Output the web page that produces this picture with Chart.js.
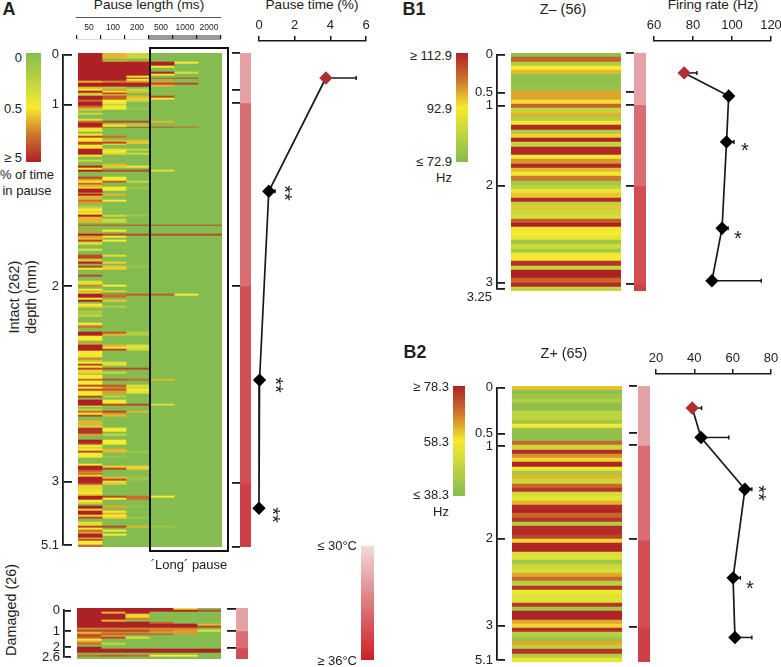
<!DOCTYPE html>
<html>
<head>
<meta charset="utf-8">
<style>
  html, body { margin: 0; background: #fff; }
  #page { position: relative; width: 781px; height: 667px; overflow: hidden; font-family: "Liberation Sans", Arial, sans-serif; color: #222; }
  #page canvas { position: absolute; }
  .txt { position: absolute; white-space: nowrap; line-height: 1; }
</style>
<script src="https://cdn.jsdelivr.net/npm/chart.js@4/dist/chart.umd.min.js"></script>
</head>
<body>
<div id="page"></div>
<script>
// pause length bins (ms)
const pauseLengths = ['50', '100', '200', '500', '1000', '2000'];
const longPause = [0, 0, 0, 1, 1, 1];

// panel A heat map, % of time in pause, [firstRow, lastRow, value], rows not listed are 0
const col50 = [[0,14,5],[15,15,1.5],[16,17,5],[18,18,1.5],[19,19,.5],[20,20,5],[21,21,1.5],[22,22,.3],[23,24,5],[25,25,3],[26,27,5],[28,28,3],[29,29,1.5],[30,30,.3],[32,32,.3],[35,35,.4],[36,36,3],[37,38,5],[39,39,4],[40,41,.6],[43,43,.5],[44,44,4],[45,45,.5],[46,46,.6],[47,48,4],[49,50,.5],[51,53,5],[54,54,.6],[57,57,.3],[60,60,5],[61,61,.5],[62,62,5],[66,66,4],[67,67,2],[68,68,.5],[69,69,3],[70,70,1.5],[71,71,1],[72,73,5],[74,74,2],[75,75,5],[76,77,1.5],[78,78,3],[79,79,2],[81,81,.2],[82,82,.3],[83,83,.5],[84,84,1],[85,85,.6],[86,86,5],[87,89,1.5],[91,91,4],[94,94,2],[96,96,5],[97,97,2],[98,98,1.5],[99,99,4],[100,100,.3],[101,101,.4],[104,104,.4],[107,108,4],[109,109,.3],[110,110,1.5],[111,111,5],[113,113,4],[114,114,.5],[118,118,4],[121,122,.4],[123,123,2.5],[125,125,.5],[126,126,2],[127,127,.3],[128,129,5],[130,130,.5],[131,131,5],[133,133,.5],[134,134,1],[137,137,.2],[138,138,.1],[139,139,.3],[143,143,.5],[144,144,1.5],[145,145,3],[148,149,5],[150,152,.5],[154,154,2],[155,157,5],[158,160,.5],[161,161,.3],[162,162,2.5],[163,163,.2],[164,164,.5],[165,165,4],[166,166,.5],[167,167,4],[168,169,1],[171,172,.5],[173,173,3],[174,175,.5],[176,176,4],[177,177,.5],[178,178,4],[179,179,1],[180,181,.5],[182,182,4],[184,186,5],[187,187,.5],[189,189,.3],[190,190,3],[191,191,.5],[192,192,4],[195,197,1.5],[198,198,.3],[199,201,4.5],[202,202,2],[205,206,5],[207,207,4],[208,208,.5],[209,209,.3],[210,210,.5],[211,211,4],[212,214,.5],[218,218,.5],[219,220,5],[221,221,3.5],[222,222,2],[223,223,3],[224,224,1],[225,227,5],[228,228,4],[229,230,1],[231,232,.4],[233,233,.5],[234,234,1],[235,236,5],[237,237,.5],[238,238,1],[240,241,5],[242,242,1],[243,244,5],[245,245,1],[246,246,4],[249,250,.4],[251,251,4],[252,252,.5],[253,253,3],[254,254,2],[255,256,5],[257,257,1],[258,258,4],[259,260,.5],[261,261,3]];
const col100 = [[0,2,1.5],[4,4,1.5],[5,14,5],[15,15,2.5],[16,17,5],[18,18,.2],[19,19,2],[20,20,.8],[21,21,5],[22,22,2],[23,24,3.5],[25,26,.5],[27,27,.3],[28,29,.5],[36,36,4],[37,37,.1],[38,38,.5],[39,39,3],[44,44,3],[46,46,1.5],[47,47,4],[48,48,.5],[51,51,.4],[52,52,.5],[53,53,1],[59,59,1.5],[60,60,1],[62,62,4],[66,67,.5],[68,68,3.5],[71,72,.5],[75,75,1.5],[78,78,.5],[86,86,.3],[88,89,.3],[91,91,4],[94,94,.5],[96,96,4],[97,97,.5],[99,99,.5],[107,107,.4],[111,111,1],[113,113,1.2],[114,114,1],[123,123,.5],[126,126,.5],[128,129,3],[131,131,1.2],[134,134,.2],[148,148,3.5],[149,149,1.5],[155,155,1.5],[156,156,.7],[157,157,4],[164,165,.4],[167,167,4],[169,169,.3],[173,173,3.5],[176,176,3.5],[177,177,2.5],[178,178,3.5],[179,180,2],[181,181,.1],[182,182,.2],[184,185,.5],[186,186,4],[190,190,4],[191,191,2],[192,192,1.5],[199,200,.5],[202,202,.3],[205,206,.5],[207,207,.5],[210,211,1.5],[214,214,.1],[219,219,1],[220,220,4],[225,225,1.5],[226,226,4],[227,227,.8],[228,228,.3],[235,235,4],[236,236,.5],[240,240,1.5],[241,241,2],[243,243,.6],[244,244,1.5],[245,245,.5],[246,246,1],[251,251,4],[253,253,.5],[255,255,.5]];
const col200 = [[0,2,.3],[4,4,2],[5,11,5],[12,12,.5],[13,13,5],[14,14,.5],[15,15,2],[16,17,5],[19,19,.3],[20,20,.2],[21,21,2],[23,23,1.5],[24,24,1],[25,25,.3],[29,29,.1],[36,36,4],[37,37,.1],[38,38,.2],[39,39,4],[46,46,1.5],[47,47,1],[51,51,.3],[53,53,.3],[60,60,.6],[62,62,4],[68,68,.3],[71,71,.1],[86,86,.1],[91,91,4],[96,96,4],[113,113,.1],[128,128,3.5],[148,149,.2],[155,156,.4],[157,157,.3],[167,167,4],[173,173,3],[176,176,.4],[177,177,.3],[178,178,.5],[179,180,.4],[186,186,4],[190,190,1.5],[211,211,.1],[219,220,1],[225,226,.1],[235,236,3],[240,240,.1],[246,246,.1],[251,251,1.5]];
const col500 = [[5,6,5],[7,7,.5],[10,10,5],[11,11,.6],[13,13,3.5],[15,15,2],[16,16,4],[17,17,1.5],[23,23,4],[24,24,.6],[36,36,1.5],[39,39,3.5],[62,62,.4],[91,91,4],[96,96,4],[128,128,3.5],[173,173,1.5],[186,186,.35],[235,235,.5],[251,251,.1]];
const col1000 = [[5,5,.5],[10,10,.4],[13,13,4],[16,16,4],[39,39,3],[91,91,4],[96,96,4],[128,128,.5]];
const col2000 = [[91,91,4],[96,96,4]];

// damaged rows, one list per pause length
const dmg50 = [5,5,5,5,5,5,5,5,5,5,2.5,4,1.5,3,4,3,.5,2,3,0,5,5,5,0,3,0];
const dmg100 = [5,5,1.5,5,5,5,1.5,5,5,5,2.5,4,2.5,4,2,4,0,0,.3,0,0,5,5,0,3.5,0];
const dmg200 = [5,5,5,1,.8,2.5,0,5,5,5,2.5,4,2.5,4,0,.4,0,0,0,0,0,5,5,0,3,0];
const dmg500 = [5,5,0,0,0,0,0,3,5,5,2.5,2.5,2,4,0,0,0,0,0,0,0,5,5,0,.5,0];
const dmg1000 = [.6,5,0,0,0,0,0,0,5,5,2.5,2,2,2,0,0,0,0,0,0,0,5,5,0,.5,0];
const dmg2000 = [0,4,0,0,0,0,0,0,1.5,4,0,.4,0,0,0,0,0,0,0,0,0,5,5,0,0,0];

// firing rate heat maps (Hz), top to bottom
const hzZminus = [75,105,80,93,97,75,75,76,76,99,99,94,105,84,98,80,92,112,80,95,113,84,112,112,92,100,112,97,92,103,78,82,90,96,112,83,96,85,88,106,113,92,93,90,77,86,78,92,93,111,84,113,113,105,112,84];
const hzZplus = [62,40,42,46,40,40,48,49,44,58,41,40,40,70,50,77,66,60,78,57,44,63,50,70,76,52,55,63,77,78,70,76,46,77,77,74,60,78,78,53,54,43,50,53,64,70,47,76,57,54,54,76,44,78,78,64,60,77,47,42,64,48,76,46,56];

// depth ticks: mm label and the row they fall on
const depthLabelsA = ['0', '1', '2', '3', '5.1'];
const depthRowsA = [0, 26.5, 123.6, 228.1, 262];
const stubRowsA = [0, 19.6, 26.5, 123.6, 228.1, 262];
const depthLabelsD = ['0', '1', '2', '2.6'];
const depthRowsD = [0.5, 11.7, 20.4, 26];
const stubRowsD = [0.5, 11.7, 20.4];
const depthLabelsB1 = ['0', '0.5', '1', '2', '3', ''];
const depthRowsB1 = [0, 9.1, 12.2, 31.3, 54.4, 56];
const stubRowsB1 = [0, 9.1, 12.2, 31.3, 54.4];
const depthLabelsB2 = ['0', '0.5', '1', '2', '3', '5.1'];
const depthRowsB2 = [0, 11, 13.9, 36, 56.7, 65];
const stubRowsB2 = [0, 11, 13.9, 36, 56.7];

// temperature strip, rows in each depth range
const stripA = [26.5, 97.1, 104.5, 33.9];
const stripD = [11.7, 8.7, 5.6];
const stripB1 = [12.2, 19.1, 23.1, 1.6];
const stripB2 = [14, 22.3, 20.5, 8.2];
const stripColors = ['#E4A1A6', '#D96D73', '#D14E53', '#CE3F46'];

// mean +- error per depth range
const pauseRows = [13.3, 74.3, 176, 245];
const pauseTime = [3.75, 0.55, 0.03, 0];
const pauseHigh = [5.45, 0.9, null, null];
const rateRowsB1 = [4.9, 10.5, 21.6, 42.5, 55.2];
const rateB1 = [75.5, 98.3, 97.2, 94.9, 89.7];
const rateHighB1 = [82, null, 101, 98, 115];
const rateRowsB2 = [5.4, 12.5, 25, 46.4, 60.8];
const rateB2 = [38.9, 43.5, 66.4, 60.2, 61.2];
const rateHighB2 = [43.8, 58, 70, 64, 70];

const GREEN = [133, 188, 79], YELLOW = [246, 235, 47], ORANGE = [205, 118, 45], RED = [174, 33, 39];
const INK = '#1a1a1a';
const FONT = 13;
const page = document.getElementById('page');

Chart.defaults.animation = false;
Chart.defaults.responsive = false;
Chart.defaults.font.family = '"Liberation Sans", Arial, sans-serif';
Chart.defaults.font.size = FONT;
Chart.defaults.color = '#222';
Chart.defaults.plugins.legend.display = false;
Chart.defaults.plugins.tooltip.enabled = false;

function place(x, y, w, h) {
    const c = document.createElement('canvas');
    c.width = w;
    c.height = h;
    c.style.left = x + 'px';
    c.style.top = y + 'px';
    page.appendChild(c);
    return c.getContext('2d');
}

function label(text, x, y, o = {}) {
    const d = document.createElement('div');
    d.className = 'txt';
    d.textContent = text;
    d.style.left = x + 'px';
    d.style.top = y + 'px';
    d.style.fontSize = (o.size || FONT) + 'px';
    if (o.bold) d.style.fontWeight = 'bold';
    const tx = o.align === 'right' ? '-100%' : '-50%';
    d.style.transform = `translate(${tx},-50%) rotate(${o.rot || 0}deg)`;
    page.appendChild(d);
}

function mix(a, b, t) {
    return `rgb(${a.map((v, i) => Math.round(v + (b[i] - v) * t)).join(',')})`;
}

// upper half of the scale, yellow through orange to dark red
function warm(t) {
    return t < 0.5 ? mix(YELLOW, ORANGE, t / 0.5) : mix(ORANGE, RED, (t - 0.5) / 0.5);
}

// colour from the 0 / 0.5 / 5 % scale
function pauseColor(v) {
    if (v <= 0.5) return mix(GREEN, YELLOW, v / 0.5);
    return warm((v - 0.5) / 4.5);
}

function hzColor(lo, hi) {
    const mid = (lo + hi) / 2;
    return v => {
        if (v <= mid) return mix(GREEN, YELLOW, Math.max(0, (v - lo) / (mid - lo)));
        return warm(Math.min(1, (v - mid) / (hi - mid)));
    };
}

function expand(bands, n) {
    const out = new Array(n).fill(0);
    bands.forEach(([a, b, v]) => { for (let i = a; i <= b; i++) out[i] = v; });
    return out;
}

// rows are under 2px tall in panel A, snap them so no white seams show
const snapPx = v => Math.round(Math.round(v * 1000) / 1000);
const snapRows = {
    id: 'snapRows',
    afterDatasetsUpdate(chart) {
        chart.data.datasets.forEach((_, i) => {
            chart.getDatasetMeta(i).data.forEach(el => {
                const top = snapPx(el.y - el.height / 2);
                const bottom = snapPx(el.y + el.height / 2);
                el.y = (top + bottom) / 2;
                el.height = bottom - top;
            });
        });
    },
};

// rows of stacked bars, one dataset per column
function heat(x, y, w, h, cols, color) {
    const rows = cols[0].map((_, i) => i);
    new Chart(place(x, y, w, h), {
        type: 'bar',
        data: {
            labels: rows,
            datasets: cols.map(col => ({
                data: col.map(() => 1),
                backgroundColor: col.map(color),
                barPercentage: 1,
                categoryPercentage: 1,
            })),
        },
        options: {
            indexAxis: 'y',
            scales: {
                x: { display: false, stacked: true, min: 0, max: cols.length },
                y: { display: false, stacked: true },
            },
        },
        plugins: [snapRows],
    });
}

// depth axis: bracket with labels (left of the map) or plain stubs (next to the strip)
function depthAxis(x, y, axisW, tickW, h, n, rows, labels) {
    const pad = 10;
    new Chart(place(x, y - pad, axisW + tickW, h + pad * 2), {
        type: 'bar',
        data: { labels: [], datasets: [] },
        options: {
            layout: { padding: { top: pad, bottom: pad } },
            scales: {
                x: { display: false },
                y: {
                    type: 'linear',
                    min: 0,
                    max: n,
                    reverse: true,
                    afterBuildTicks: s => { s.ticks = rows.map(v => ({ value: v })); },
                    afterFit: s => { s.width = axisW; },
                    grid: { color: INK, lineWidth: 1.8, drawTicks: false },
                    border: { display: !!labels, color: INK, width: 1.8 },
                    ticks: {
                        display: !!labels,
                        autoSkip: false,
                        padding: 4,
                        callback: (v, i) => (labels ? labels[i] : ''),
                    },
                },
            },
        },
    });
}

function strip(x, y, w, h, segs) {
    new Chart(place(x, y, w, h), {
        type: 'bar',
        data: {
            labels: [''],
            datasets: segs.map((s, i) => ({
                data: [s],
                backgroundColor: stripColors[i],
                barPercentage: 1,
                categoryPercentage: 1,
            })),
        },
        options: {
            scales: {
                x: { display: false, stacked: true },
                y: { display: false, stacked: true, reverse: true, min: 0, max: segs.reduce((a, b) => a + b, 0) },
            },
        },
    });
}

function colorBar(x, y, w, h, stops) {
    new Chart(place(x, y, w, h), {
        type: 'bar',
        data: {
            labels: [''],
            datasets: [{
                data: [1],
                barPercentage: 1,
                categoryPercentage: 1,
                backgroundColor: c => {
                    const area = c.chart.chartArea;
                    if (!area) return '#fff';
                    const g = c.chart.ctx.createLinearGradient(0, area.top, 0, area.bottom);
                    stops.forEach(([p, col]) => g.addColorStop(p, col));
                    return g;
                },
            }],
        },
        options: { scales: { x: { display: false }, y: { display: false, min: 0, max: 1 } } },
    });
}

// mean line with diamonds on a top axis; first point red, error bars to the right
function profile(x0, x1, axisY, top, bottom, rowH, xMin, xMax, step, rows, means, highs) {
    const padX = 14, head = 32;
    const errs = means.map((m, i) => ({ m, r: rows[i], hi: highs[i] })).filter(e => e.hi !== null);
    new Chart(place(x0 - padX, axisY - head, x1 - x0 + padX * 2, bottom - axisY + head), {
        type: 'line',
        data: {
            datasets: [{
                data: means.map((m, i) => ({ x: m, y: rows[i] })),
                borderColor: INK,
                borderWidth: 1.7,
                tension: 0,
                pointStyle: 'rectRot',
                pointRadius: 5.5,
                pointBackgroundColor: means.map((_, i) => (i === 0 ? '#B02E33' : '#000')),
                pointBorderColor: means.map((_, i) => (i === 0 ? '#B02E33' : '#000')),
                clip: false,
            }].concat(errs.map(e => ({
                data: [{ x: e.m, y: e.r }, { x: e.hi, y: e.r }],
                borderColor: INK,
                borderWidth: 1.5,
                pointStyle: 'line',
                rotation: 90,
                pointRadius: [0, 2],
                pointBorderColor: INK,
                pointBorderWidth: 1.5,
                clip: false,
            }))),
        },
        options: {
            layout: { padding: { left: padX, right: padX } },
            scales: {
                x: {
                    type: 'linear',
                    position: 'top',
                    min: xMin,
                    max: xMax,
                    afterFit: s => { s.height = head; },
                    ticks: { stepSize: step, padding: 3, maxRotation: 0 },
                    grid: { color: INK, lineWidth: 1.5, tickLength: 5, drawOnChartArea: false },
                    border: { color: INK, width: 1.5 },
                },
                y: { display: false, reverse: true, min: (axisY - top) / rowH, max: (bottom - top) / rowH },
            },
        },
    });
}

function pauseLengthAxis(x, y, w, h) {
    const head = 18;
    new Chart(place(x - 6, y - head, w + 12, h + head + 2), {
        type: 'bar',
        data: {
            labels: pauseLengths,
            datasets: [{ data: longPause, backgroundColor: '#9A9A9A', barPercentage: 1, categoryPercentage: 1 }],
        },
        options: {
            layout: { padding: { left: 6, right: 6, bottom: 1 } },
            scales: {
                x: {
                    afterFit: s => { s.height = 1; },
                    ticks: { display: false },
                    grid: { offset: true, color: INK, lineWidth: 1.2, drawTicks: false, z: 1 },
                    border: { color: INK, width: 1.5 },
                },
                top: {
                    axis: 'x',
                    type: 'category',
                    position: 'top',
                    offset: true,
                    afterFit: s => { s.height = head; },
                    ticks: { font: { size: 8.5 }, padding: 2, maxRotation: 0, autoSkip: false },
                    grid: { display: false, drawTicks: false },
                    border: { display: false },
                },
                y: { display: false, min: 0, max: 1 },
            },
        },
    });
}

const heatStops = [[0, 'rgb(174,33,39)'], [0.25, 'rgb(205,118,45)'], [0.5, 'rgb(246,235,47)'], [1, 'rgb(133,188,79)']];
const pauseStops = heatStops.slice().reverse().map(([p, c]) => [1 - p, c]);

// panel A
label('A', 9, 9, { size: 18, bold: true });
label('Pause length (ms)', 149, 5, { size: 13.6 });
label('Pause time (%)', 312, 5, { size: 13.6 });
pauseLengthAxis(77, 35, 144, 5);
colorBar(26, 53, 15, 109, pauseStops);
label('0', 22, 57, { align: 'right' });
label('0.5', 22, 108, { align: 'right' });
label('≥ 5', 22, 157, { align: 'right' });
label('% of time', 27, 174);
label('in pause', 27, 190);
label('Intact (262)', 14, 297, { rot: -90, size: 14.4 });
label('depth (mm)', 31, 297, { rot: -90, size: 14.4 });
depthAxis(0, 53, 63, 9, 494, 262, depthRowsA, depthLabelsA);
heat(78, 53, 144, 494, [col50, col100, col200, col500, col1000, col2000].map(c => expand(c, 262)), pauseColor);
depthAxis(232, 53, 0, 8, 494, 262, stubRowsA, null);
strip(240, 53, 11, 494, stripA);
profile(258.5, 366, 40.5, 53, 547, 494 / 262, 0, 6, 2, pauseRows, pauseTime, pauseHigh);
label('**', 285, 193, { size: 20, rot: 90 });
label('**', 276, 385, { size: 20, rot: 90 });
label('**', 273, 515, { size: 20, rot: 90 });

const box = document.createElement('div');
box.style.cssText = 'position:absolute;left:149px;top:47px;width:76px;height:501px;border:2px solid #111;box-sizing:content-box;';
page.appendChild(box);
label('´Long´ pause', 189, 564);

// damaged
label('Damaged (26)', 11, 610, { rot: -90, size: 14.4 });
depthAxis(0, 608, 64, 7, 51, 26, depthRowsD, depthLabelsD);
heat(77, 608, 144, 51, [dmg50, dmg100, dmg200, dmg500, dmg1000, dmg2000], pauseColor);
depthAxis(227, 608, 0, 9, 51, 26, stubRowsD, null);
strip(236, 608, 12, 51, stripD);

// temperature scale
colorBar(361, 546, 13, 114, [[0, '#F1DADC'], [0.5, '#DC7A7F'], [1, '#CE1F26']]);
label('≤ 30°C', 357, 545, { align: 'right' });
label('≥ 36°C', 357, 660, { align: 'right' });

// panel B1
label('B1', 414, 9, { size: 18, bold: true });
label('Z– (56)', 563, 9, { size: 14.4 });
label('Firing rate (Hz)', 713, 5, { size: 13.6 });
colorBar(456, 53, 12, 109, heatStops);
label('≥ 112.9', 452, 55, { align: 'right' });
label('92.9', 452, 108, { align: 'right' });
label('≤ 72.9', 452, 161, { align: 'right' });
label('Hz', 452, 177, { align: 'right' });
depthAxis(440, 53, 57, 8, 238, 56, depthRowsB1, depthLabelsB1);
label('3.25', 492, 296, { align: 'right' });
heat(511, 53, 110, 238, [hzZminus], hzColor(72.9, 112.9));
depthAxis(626, 53, 0, 8, 238, 56, stubRowsB1, null);
strip(634, 53, 12, 238, stripB1);
profile(654, 771, 41, 53, 300, 238 / 56, 60, 120, 20, rateRowsB1, rateB1, rateHighB1);
label('*', 745, 150, { size: 20 });
label('*', 738, 238, { size: 20 });

// panel B2
label('B2', 415, 352, { size: 18, bold: true });
label('Z+ (65)', 564, 353, { size: 14.4 });
colorBar(453, 386, 12, 110, heatStops);
label('≥ 78.3', 449, 386, { align: 'right' });
label('58.3', 449, 441, { align: 'right' });
label('≤ 38.3', 449, 494, { align: 'right' });
label('Hz', 449, 511, { align: 'right' });
depthAxis(440, 386, 57, 8, 276, 65, depthRowsB2, depthLabelsB2);
heat(512, 386, 110, 276, [hzZplus], hzColor(38.3, 78.3));
depthAxis(629, 386, 0, 8, 276, 65, stubRowsB2, null);
strip(637.5, 386, 12, 276, stripB2);
profile(656, 771, 374, 386, 664, 276 / 65, 20, 80, 20, rateRowsB2, rateB2, rateHighB2);
label('**', 759, 493, { size: 20, rot: 90 });
label('*', 750, 588, { size: 20 });
</script>
</body>
</html>
